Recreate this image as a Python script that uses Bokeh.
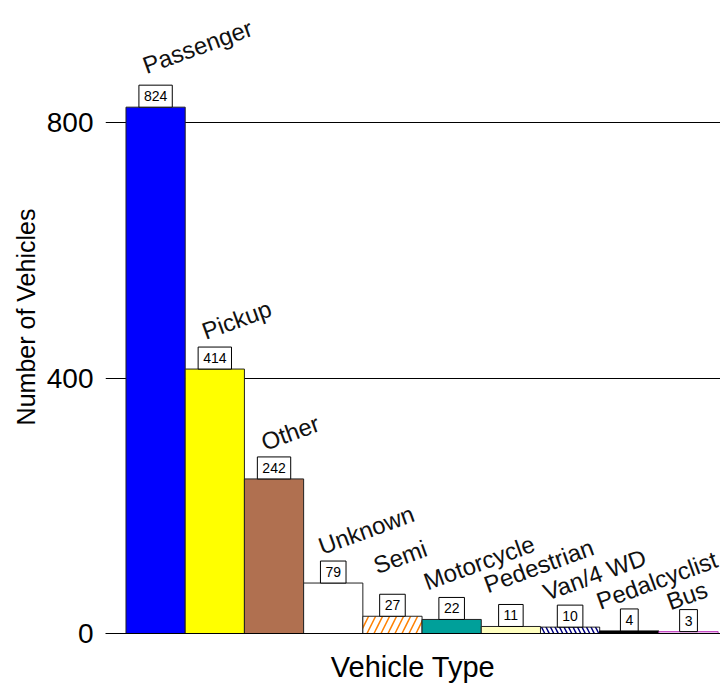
from bokeh.plotting import figure
from bokeh.models import ColumnDataSource, Range1d, FixedTicker
from bokeh.core.properties import value
from bokeh.embed import file_html
from bokeh.resources import INLINE

# ---- data ----
categories = ["Passenger", "Pickup", "Other", "Unknown", "Semi", "Motorcycle",
              "Pedestrian", "Van/4 WD", "Pedalcyclist", "Bus"]
counts = [824, 414, 242, 79, 27, 22, 11, 10, 4, 3]
y_ticks = [0, 400, 800]

# ---- styles ----
fill_colors = ["#0000FF", "#FFFF00", "#B07050", "#FFFFFF", "#FFFFFF", "#00A09A",
               "#FFFFC0", "#FFFFFF", "#000000", "#F0C0F0"]
line_colors = ["#222222"] * 8 + ["#000000", "#C040C0"]
hatch_patterns = [" ", " ", " ", " ", "/", " ", " ", "\\", " ", " "]
hatch_colors = ["#000000"] * 4 + ["#FF8000", "#000000", "#000000", "#000080", "#000000", "#000000"]
hatch_scales = [12, 12, 12, 12, 14, 12, 12, 9, 12, 12]
# label nudges (screen px, relative to bar centre / bar top)
label_dx = [-12, -12, -12, -14, -18, -27, -26, -26, -32, -21]
label_dy = [-41, -37, -36, -36, -50, -37, -41, -34, -29, -29]

FONT = "Liberation Sans"

src = ColumnDataSource(dict(
    x=list(range(len(categories))), top=counts, cat=categories,
    lbl=[str(c) for c in counts], fill=fill_colors, line=line_colors,
    hp=hatch_patterns, hc=hatch_colors, hs=hatch_scales,
    dx=label_dx, dy=label_dy,
))

p = figure(width=720, height=685, output_backend="svg", toolbar_location=None,
           x_range=Range1d(-0.846, 9.54), y_range=Range1d(0, 991),
           min_border_left=105, min_border_right=0, min_border_top=0,
           min_border_bottom=52)
p.outline_line_color = None
p.background_fill_color = "white"

p.vbar(x="x", top="top", width=1.0, bottom=0, source=src,
       fill_color="fill", line_color="line", line_width=1,
       hatch_pattern="hp", hatch_color="hc", hatch_scale="hs", hatch_weight=1.5)

# value boxes
p.text(x="x", y="top", text="lbl", source=src, text_align="center",
       text_baseline="bottom", y_offset=0, text_font=value(FONT),
       text_font_size="14px", text_color="black",
       background_fill_color="white", border_line_color="black",
       padding=(5, 6))

# rotated category names
p.text(x="x", y="top", text="cat", source=src, text_align="left",
       text_baseline="alphabetic", x_offset="dx", y_offset="dy", angle=20,
       angle_units="deg", text_font=value(FONT), text_font_size="24px",
       text_color="#111111")

# axes
p.yaxis.ticker = FixedTicker(ticks=y_ticks)
p.yaxis.axis_line_color = None
p.yaxis.major_tick_line_color = None
p.yaxis.minor_tick_line_color = None
p.yaxis.major_tick_out = 0
p.yaxis.major_label_standoff = 12
p.yaxis.major_label_text_font = FONT
p.yaxis.major_label_text_font_size = "28px"
p.yaxis.major_label_text_color = "black"
p.yaxis.axis_label = "Number of Vehicles"
p.yaxis.axis_label_text_font = FONT
p.yaxis.axis_label_text_font_size = "25px"
p.yaxis.axis_label_text_font_style = "normal"
p.yaxis.axis_label_text_color = "black"
p.yaxis.axis_label_standoff = 4

p.xaxis.ticker = FixedTicker(ticks=[])
p.xaxis.axis_line_color = "black"
p.xaxis.major_tick_line_color = None
p.xaxis.minor_tick_line_color = None
p.xaxis.major_label_text_font_size = "0px"
p.xaxis.axis_label = "Vehicle Type"
p.xaxis.axis_label_text_font = FONT
p.xaxis.axis_label_text_font_size = "29px"
p.xaxis.axis_label_text_font_style = "normal"
p.xaxis.axis_label_text_color = "black"
p.xaxis.axis_label_standoff = 17

p.xgrid.grid_line_color = None
p.ygrid.ticker = FixedTicker(ticks=y_ticks)
p.ygrid.grid_line_color = "black"
p.ygrid.grid_line_width = 1
p.ygrid.level = "underlay"

open("out.html", "w").write(file_html(p, INLINE))
